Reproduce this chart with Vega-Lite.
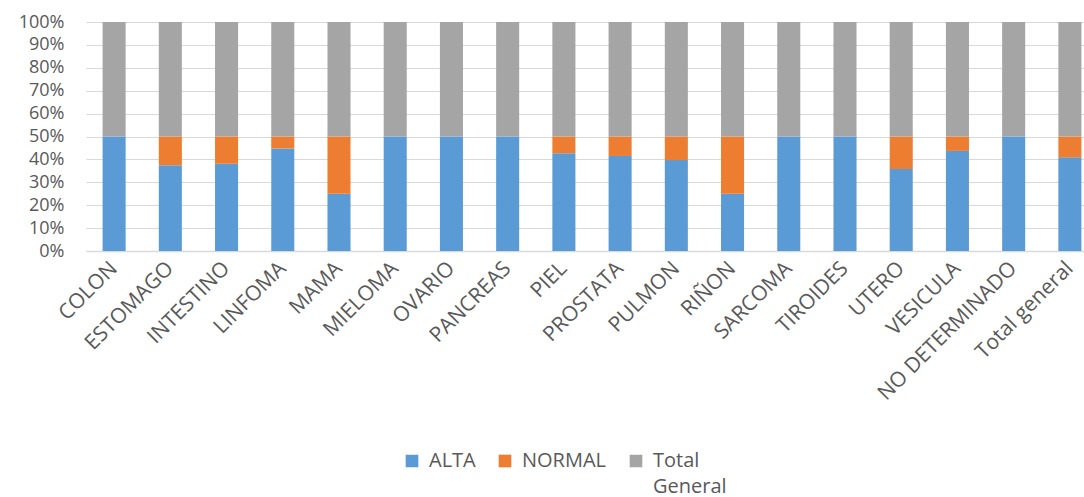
{
  "$schema": "https://vega.github.io/schema/vega-lite/v6.json",
  "autosize": "none",
  "width": 998,
  "height": 229,
  "padding": {"left": 86, "top": 22, "right": 0, "bottom": 246},
  "background": "#ffffff",
  "config": {
    "view": {"stroke": null},
    "font": "Open Sans",
    "axis": {"labelColor": "#595959", "labelFont": "Open Sans"},
    "legend": {"labelColor": "#595959", "labelFont": "Open Sans"}
  },
  "data": {
    "values": [
      {"tipo": "COLON", "serie": "ALTA", "valor": 0.5},
      {"tipo": "COLON", "serie": "NORMAL", "valor": 0},
      {"tipo": "COLON", "serie": "Total General", "valor": 0.5},
      {"tipo": "ESTOMAGO", "serie": "ALTA", "valor": 0.375},
      {"tipo": "ESTOMAGO", "serie": "NORMAL", "valor": 0.125},
      {"tipo": "ESTOMAGO", "serie": "Total General", "valor": 0.5},
      {"tipo": "INTESTINO", "serie": "ALTA", "valor": 0.381},
      {"tipo": "INTESTINO", "serie": "NORMAL", "valor": 0.119},
      {"tipo": "INTESTINO", "serie": "Total General", "valor": 0.5},
      {"tipo": "LINFOMA", "serie": "ALTA", "valor": 0.448},
      {"tipo": "LINFOMA", "serie": "NORMAL", "valor": 0.052},
      {"tipo": "LINFOMA", "serie": "Total General", "valor": 0.5},
      {"tipo": "MAMA", "serie": "ALTA", "valor": 0.25},
      {"tipo": "MAMA", "serie": "NORMAL", "valor": 0.25},
      {"tipo": "MAMA", "serie": "Total General", "valor": 0.5},
      {"tipo": "MIELOMA", "serie": "ALTA", "valor": 0.5},
      {"tipo": "MIELOMA", "serie": "NORMAL", "valor": 0},
      {"tipo": "MIELOMA", "serie": "Total General", "valor": 0.5},
      {"tipo": "OVARIO", "serie": "ALTA", "valor": 0.5},
      {"tipo": "OVARIO", "serie": "NORMAL", "valor": 0},
      {"tipo": "OVARIO", "serie": "Total General", "valor": 0.5},
      {"tipo": "PANCREAS", "serie": "ALTA", "valor": 0.5},
      {"tipo": "PANCREAS", "serie": "NORMAL", "valor": 0},
      {"tipo": "PANCREAS", "serie": "Total General", "valor": 0.5},
      {"tipo": "PIEL", "serie": "ALTA", "valor": 0.427},
      {"tipo": "PIEL", "serie": "NORMAL", "valor": 0.073},
      {"tipo": "PIEL", "serie": "Total General", "valor": 0.5},
      {"tipo": "PROSTATA", "serie": "ALTA", "valor": 0.415},
      {"tipo": "PROSTATA", "serie": "NORMAL", "valor": 0.085},
      {"tipo": "PROSTATA", "serie": "Total General", "valor": 0.5},
      {"tipo": "PULMON", "serie": "ALTA", "valor": 0.397},
      {"tipo": "PULMON", "serie": "NORMAL", "valor": 0.103},
      {"tipo": "PULMON", "serie": "Total General", "valor": 0.5},
      {"tipo": "RIÑON", "serie": "ALTA", "valor": 0.25},
      {"tipo": "RIÑON", "serie": "NORMAL", "valor": 0.25},
      {"tipo": "RIÑON", "serie": "Total General", "valor": 0.5},
      {"tipo": "SARCOMA", "serie": "ALTA", "valor": 0.5},
      {"tipo": "SARCOMA", "serie": "NORMAL", "valor": 0},
      {"tipo": "SARCOMA", "serie": "Total General", "valor": 0.5},
      {"tipo": "TIROIDES", "serie": "ALTA", "valor": 0.5},
      {"tipo": "TIROIDES", "serie": "NORMAL", "valor": 0},
      {"tipo": "TIROIDES", "serie": "Total General", "valor": 0.5},
      {"tipo": "UTERO", "serie": "ALTA", "valor": 0.358},
      {"tipo": "UTERO", "serie": "NORMAL", "valor": 0.142},
      {"tipo": "UTERO", "serie": "Total General", "valor": 0.5},
      {"tipo": "VESICULA", "serie": "ALTA", "valor": 0.437},
      {"tipo": "VESICULA", "serie": "NORMAL", "valor": 0.063},
      {"tipo": "VESICULA", "serie": "Total General", "valor": 0.5},
      {"tipo": "NO DETERMINADO", "serie": "ALTA", "valor": 0.5},
      {"tipo": "NO DETERMINADO", "serie": "NORMAL", "valor": 0},
      {"tipo": "NO DETERMINADO", "serie": "Total General", "valor": 0.5},
      {"tipo": "Total general", "serie": "ALTA", "valor": 0.409},
      {"tipo": "Total general", "serie": "NORMAL", "valor": 0.091},
      {"tipo": "Total general", "serie": "Total General", "valor": 0.5}
    ]
  },
  "mark": {"type": "bar"},
  "encoding": {
    "x": {
      "field": "tipo",
      "type": "nominal",
      "sort": null,
      "scale": {"range": [0, 1012], "paddingInner": 0.59, "paddingOuter": 0.295},
      "axis": {
        "title": null,
        "labelAngle": -45,
        "labelFontSize": 21,
        "labelBaseline": "middle",
        "labelPadding": 14,
        "labelLimit": 400,
        "ticks": false,
        "domain": true,
        "domainColor": "#d9d9d9",
        "domainWidth": 1.5
      }
    },
    "y": {
      "field": "valor",
      "type": "quantitative",
      "stack": "zero",
      "scale": {"domain": [0, 1], "nice": false},
      "axis": {
        "title": null,
        "format": ".0%",
        "values": [0, 0.1, 0.2, 0.3, 0.4, 0.5, 0.6, 0.7, 0.8, 0.9, 1],
        "labelFontSize": 18,
        "labelPadding": 22,
        "ticks": false,
        "domain": false,
        "grid": true,
        "gridColor": "#d9d9d9",
        "gridWidth": 1.2
      }
    },
    "color": {
      "field": "serie",
      "type": "nominal",
      "scale": {
        "domain": ["ALTA", "NORMAL", "Total General"],
        "range": ["#5b9bd5", "#ed7d31", "#a5a5a5"]
      },
      "legend": {
        "title": null,
        "orient": "none",
        "direction": "horizontal",
        "legendX": 316,
        "legendY": 429,
        "symbolType": "square",
        "symbolSize": 160,
        "clipHeight": 20,
        "labelFontSize": 20,
        "labelOffset": 7,
        "columnPadding": 19,
        "labelBaseline": "top",
        "labelExpr": "datum.label == 'Total General' ? ['Total', 'General'] : [datum.label, '']",
        "encode": {
          "labels": {
            "update": {
              "dy": {"value": -10},
              "lineHeight": {"value": 26}
            }
          }
        }
      }
    },
    "order": {"field": "orden", "type": "quantitative"}
  },
  "transform": [
    {"calculate": "indexof(['ALTA', 'NORMAL', 'Total General'], datum.serie)", "as": "orden"}
  ]
}
